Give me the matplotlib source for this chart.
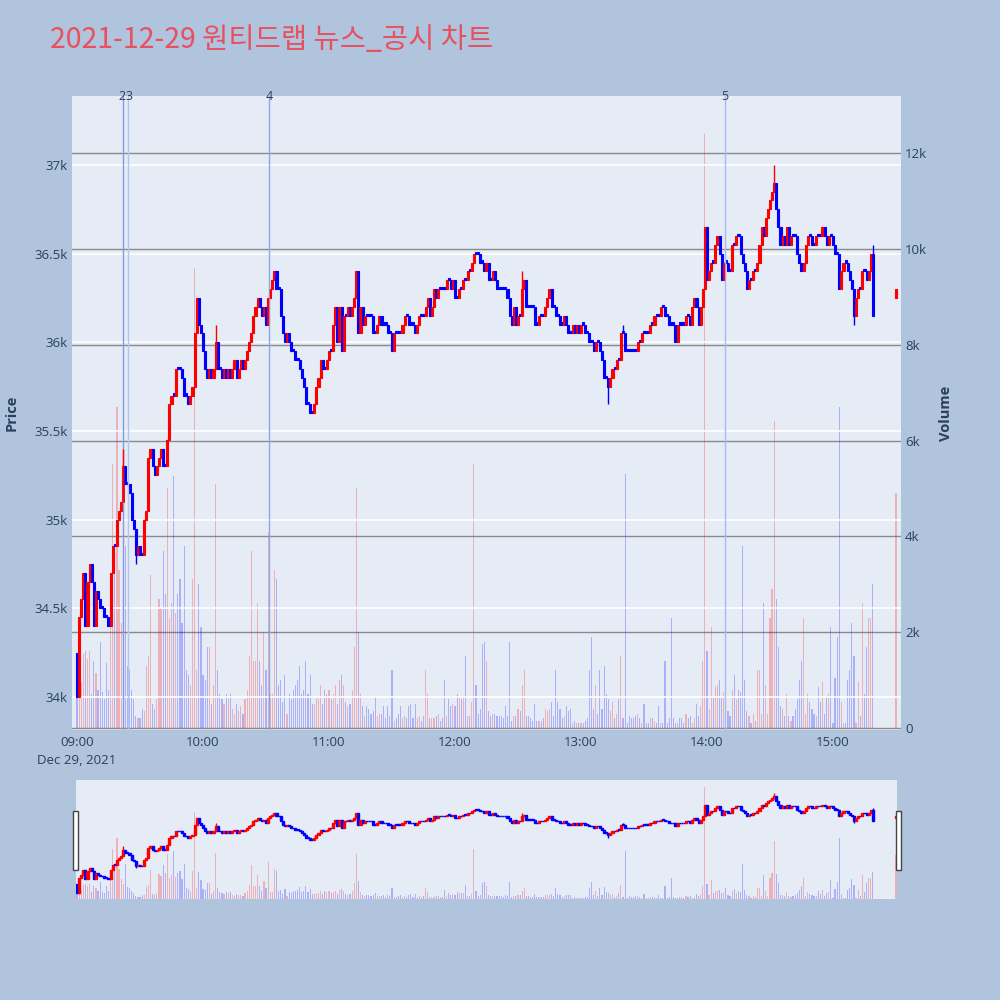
import matplotlib
matplotlib.use('Agg')
import matplotlib.pyplot as plt
import matplotlib.transforms as mtransforms
from matplotlib.patches import Rectangle

plt.rcParams['font.family'] = ['Open Sans', 'Noto Sans CJK KR', 'DejaVu Sans']

TITLE = '2021-12-29 원티드랩 뉴스_공시 차트'

# minutes after 09:00 (continuous session 09:00-15:19, closing auction 15:30)
minutes = list(range(380)) + [390]

closes = [
    34000, 34450, 34550, 34700, 34400, 34650, 34750, 34650, 34400, 34600, 34550, 34500, 34500, 34450, 34450, 34400, 34700, 34850, 34850, 35000,
    35050, 35100, 35300, 35200, 35200, 35150, 35000, 34950, 34800, 34850, 34800, 34800, 35000, 35050, 35350, 35400, 35300, 35250, 35300, 35350,
    35400, 35300, 35300, 35450, 35650, 35700, 35700, 35850, 35850, 35850, 35800, 35700, 35700, 35650, 35700, 35750, 36050, 36250, 36100, 36050,
    35950, 35850, 35800, 35850, 35800, 35850, 36000, 35850, 35850, 35800, 35850, 35800, 35850, 35800, 35850, 35900, 35800, 35850, 35900, 35850,
    35900, 35950, 36000, 36050, 36150, 36200, 36250, 36200, 36150, 36200, 36100, 36250, 36300, 36350, 36400, 36300, 36300, 36150, 36050, 36000,
    36050, 36000, 35950, 35950, 35900, 35900, 35850, 35800, 35750, 35650, 35650, 35600, 35600, 35650, 35750, 35800, 35900, 35850, 35850, 35900,
    35950, 35950, 36100, 36200, 36000, 36200, 35950, 36150, 36150, 36200, 36150, 36200, 36250, 36400, 36050, 36200, 36100, 36150, 36150, 36150,
    36150, 36050, 36050, 36100, 36150, 36100, 36100, 36100, 36050, 36050, 35950, 36050, 36050, 36050, 36050, 36100, 36150, 36150, 36100, 36100,
    36100, 36050, 36100, 36150, 36150, 36150, 36200, 36250, 36150, 36200, 36300, 36250, 36300, 36300, 36300, 36300, 36350, 36350, 36300, 36350,
    36250, 36250, 36300, 36300, 36350, 36350, 36400, 36400, 36450, 36500, 36500, 36500, 36450, 36450, 36400, 36450, 36350, 36350, 36400, 36350,
    36300, 36300, 36300, 36300, 36300, 36250, 36150, 36100, 36200, 36100, 36150, 36150, 36300, 36350, 36200, 36200, 36200, 36200, 36100, 36100,
    36150, 36150, 36150, 36200, 36250, 36300, 36200, 36200, 36150, 36150, 36100, 36100, 36150, 36100, 36050, 36050, 36100, 36050, 36100, 36050,
    36100, 36100, 36050, 36050, 36000, 36000, 35950, 36000, 36000, 35950, 35900, 35800, 35800, 35750, 35800, 35850, 35850, 35900, 35900, 36050,
    36050, 35950, 35950, 35950, 35950, 35950, 35950, 36000, 36000, 36050, 36050, 36050, 36050, 36100, 36100, 36150, 36150, 36150, 36200, 36200,
    36150, 36150, 36100, 36100, 36100, 36000, 36100, 36100, 36100, 36100, 36150, 36150, 36100, 36200, 36250, 36200, 36100, 36200, 36300, 36650,
    36350, 36400, 36450, 36450, 36550, 36600, 36500, 36350, 36450, 36450, 36400, 36400, 36550, 36550, 36600, 36600, 36500, 36450, 36400, 36300,
    36350, 36350, 36400, 36400, 36450, 36550, 36650, 36600, 36700, 36750, 36800, 36850, 36900, 36750, 36650, 36550, 36600, 36550, 36650, 36550,
    36600, 36600, 36600, 36500, 36450, 36400, 36450, 36550, 36600, 36600, 36550, 36550, 36600, 36600, 36600, 36650, 36600, 36550, 36600, 36600,
    36550, 36500, 36500, 36300, 36400, 36450, 36450, 36400, 36350, 36300, 36150, 36250, 36300, 36300, 36400, 36400, 36350, 36400, 36500, 36150,
    36300,
]
first_open = 34250
auction_open = 36250

volumes = [
    1100, 1250, 950, 1550, 1600, 1450, 1600, 700, 1400, 1150, 800, 1800, 750, 600, 1350, 800, 3000, 5500, 3400, 6700,
    3300, 2200, 1600, 3800, 1300, 1200, 800, 600, 250, 200, 200, 400, 350, 1300, 1500, 3200, 500, 400, 600, 2700,
    2500, 3700, 2800, 5000, 2300, 2600, 5250, 2400, 2800, 3100, 2200, 3800, 1200, 1100, 900, 3100, 9600, 1200, 3000, 2100,
    1100, 1000, 1700, 1700, 500, 900, 5100, 1200, 700, 600, 500, 700, 600, 700, 400, 300, 500, 350, 450, 300,
    600, 800, 1500, 3700, 1400, 1400, 2600, 1400, 900, 2000, 1200, 4100, 700, 700, 3300, 3100, 900, 1000, 550, 1100,
    300, 700, 600, 800, 900, 1000, 1300, 700, 800, 1400, 700, 1100, 500, 500, 650, 600, 900, 500, 800, 700,
    800, 600, 700, 900, 500, 1000, 1100, 900, 550, 450, 500, 800, 1700, 5000, 2000, 700, 450, 250, 450, 400,
    300, 350, 650, 250, 300, 300, 450, 200, 450, 250, 1200, 150, 200, 300, 450, 200, 250, 200, 450, 500,
    200, 500, 200, 250, 150, 250, 1200, 700, 200, 200, 200, 250, 300, 150, 200, 1000, 250, 600, 450, 500,
    450, 700, 650, 600, 650, 1500, 250, 250, 550, 5500, 900, 300, 400, 1750, 1800, 1400, 350, 250, 300, 300,
    250, 250, 250, 200, 450, 250, 1800, 150, 250, 250, 400, 350, 900, 1200, 250, 250, 200, 150, 500, 150,
    150, 150, 200, 400, 350, 400, 550, 250, 1200, 550, 400, 200, 250, 450, 350, 400, 100, 150, 100, 100,
    100, 100, 150, 200, 1200, 1900, 400, 900, 300, 1200, 400, 1300, 700, 600, 350, 550, 200, 300, 600, 1500,
    200, 5300, 100, 250, 200, 200, 250, 300, 200, 100, 500, 100, 100, 200, 200, 150, 100, 450, 100, 100,
    1400, 100, 200, 2300, 200, 100, 100, 200, 200, 100, 300, 200, 250, 100, 200, 500, 250, 450, 1400, 12400,
    1600, 400, 2100, 650, 850, 900, 1000, 650, 750, 1200, 350, 250, 800, 1100, 600, 800, 750, 3800, 1000, 350,
    250, 100, 300, 150, 1200, 1200, 300, 2600, 900, 300, 2300, 2900, 6400, 2700, 1700, 450, 400, 250, 700, 250,
    150, 250, 400, 600, 1000, 1400, 2300, 300, 700, 550, 400, 300, 250, 850, 550, 950, 300, 650, 700, 2100,
    100, 1050, 1900, 6700, 550, 100, 100, 1000, 1200, 2200, 1500, 100, 950, 250, 2600, 700, 1700, 2300, 2300, 3000,
    4900,
]

# wick extremes beyond candle bodies
spike_minutes = [7, 22, 57, 66, 133, 212, 260, 332, 379]
spike_highs = [34750, 35400, 36250, 36100, 36400, 36400, 36100, 37000, 36550]
dip_minutes = [28, 253, 370]
dip_lows = [34750, 35650, 36100]

news_minutes = [22, 24.3, 91.4, 308.6]
news_labels = ['2', '3', '4', '5']
news_colors = ['#7f9be6', '#b3c3f2', '#8ea7ea', '#a7bbf0']
news_align = ['right', 'left', 'center', 'center']

price_ticks = [34000, 34500, 35000, 35500, 36000, 36500, 37000]
price_labels = ['34k', '34.5k', '35k', '35.5k', '36k', '36.5k', '37k']
vol_ticks = [0, 2000, 4000, 6000, 8000, 10000, 12000]
vol_labels = ['0', '2k', '4k', '6k', '8k', '10k', '12k']
time_ticks = [0, 60, 120, 180, 240, 300, 360]
time_labels = ['09:00\nDec 29, 2021', '10:00', '11:00', '12:00', '13:00', '14:00', '15:00']

RED = '#FF0000'
BLUE = '#0000FF'
TXT = '#2a3f5f'
BG = '#B0C4DE'
PLOT_BG = '#E5ECF6'

opens = [first_open] + closes[:-1]
opens[-1] = auction_open
highs = [max(o, c) for o, c in zip(opens, closes)]
lows = [min(o, c) for o, c in zip(opens, closes)]
for m, h in zip(spike_minutes, spike_highs):
    i = minutes.index(m)
    highs[i] = max(highs[i], h)
for m, l in zip(dip_minutes, dip_lows):
    i = minutes.index(m)
    lows[i] = min(lows[i], l)
colors = [RED if c > o else BLUE for o, c in zip(opens, closes)]

PRICE_LIM = (33814, 37389)
VOL_LIM = (-42, 13190)


def draw(ax_v, ax_p, body_w, wick_lw, body_edge, bar_w, bar_alpha):
    ax_v.bar(minutes, volumes, width=bar_w, color=colors, alpha=bar_alpha, linewidth=0)
    ax_p.vlines(minutes, lows, highs, colors=colors, linewidth=wick_lw)
    bottoms = [min(o, c) for o, c in zip(opens, closes)]
    heights = [max(abs(c - o), 12) for o, c in zip(opens, closes)]
    ax_p.bar(minutes, heights, bottom=bottoms, width=body_w, color=colors,
             edgecolor=colors, linewidth=body_edge)


fig = plt.figure(figsize=(10, 10), dpi=100, facecolor=BG)

rect = [0.072, 0.270, 0.829, 0.634]
ax_v = fig.add_axes(rect, facecolor=PLOT_BG)
ax_p = fig.add_axes(rect, sharex=ax_v, facecolor='none')
ax_p.set_zorder(ax_v.get_zorder() + 1)

draw(ax_v, ax_p, 1.0, 1.0, 0.8, 0.55, 0.25)

ax_v.set_xlim(-2.4, 392.4)
ax_v.set_ylim(*VOL_LIM)
ax_p.set_ylim(*PRICE_LIM)

ax_v.yaxis.tick_right()
ax_v.set_yticks(vol_ticks)
ax_v.set_yticklabels(vol_labels)
ax_v.grid(axis='y', color='#8a8a8a', linewidth=1)
ax_v.set_axisbelow(True)

ax_p.set_yticks(price_ticks)
ax_p.set_yticklabels(price_labels)
ax_p.grid(axis='y', color='white', linewidth=1.2)
ax_p.set_axisbelow(True)

ax_p.set_xticks(time_ticks)
ax_p.set_xticklabels(time_labels, linespacing=1.55, va='top')
ax_v.tick_params(axis='x', labelbottom=False)

for a in (ax_v, ax_p):
    for s in a.spines.values():
        s.set_visible(False)
    a.tick_params(length=0, labelcolor=TXT, labelsize=9.5)
ax_p.tick_params(axis='y', pad=3)
ax_v.tick_params(axis='y', pad=3)
ax_p.tick_params(axis='x', pad=4)

trans = mtransforms.blended_transform_factory(ax_p.transData, ax_p.transAxes)
for m, lab, col, al in zip(news_minutes, news_labels, news_colors, news_align):
    ax_p.axvline(m, color=col, linewidth=1, zorder=1)
    xoff = {'right': 1.2, 'left': -1.2, 'center': 0}[al]
    ax_p.text(m + xoff, 1.0, lab, transform=trans, ha=al, va='center',
              fontsize=9, color=TXT)

fig.text(0.012, 0.587, 'Price', rotation=90, ha='center', va='center',
         fontsize=10.5, fontweight='bold', color=TXT)
fig.text(0.946, 0.587, 'Volume', rotation=90, ha='center', va='center',
         fontsize=10.5, fontweight='bold', color=TXT)

fig.text(0.05, 0.96, TITLE, fontsize=20.5, color='#E9505F', ha='left', va='center',
         family=['Noto Sans CJK KR', 'DejaVu Sans'])

# range slider
srect = [0.076, 0.101, 0.821, 0.119]
sv = fig.add_axes(srect, facecolor=PLOT_BG)
sp = fig.add_axes(srect, sharex=sv, facecolor='none')
sp.set_zorder(sv.get_zorder() + 1)
draw(sv, sp, 1.0, 1.0, 1.0, 0.55, 0.25)
sv.set_xlim(-0.5, 390.5)
sv.set_ylim(*VOL_LIM)
sp.set_ylim(*PRICE_LIM)
for a in (sv, sp):
    a.set_xticks([])
    a.set_yticks([])
    for s in a.spines.values():
        s.set_visible(False)

for hx in (0.073, 0.896):
    fig.patches.append(Rectangle((hx, 0.130), 0.005, 0.059, transform=fig.transFigure,
                                 facecolor='white', edgecolor='#444444', linewidth=1,
                                 zorder=10))

fig.savefig('out.png', dpi=100, facecolor=BG)
